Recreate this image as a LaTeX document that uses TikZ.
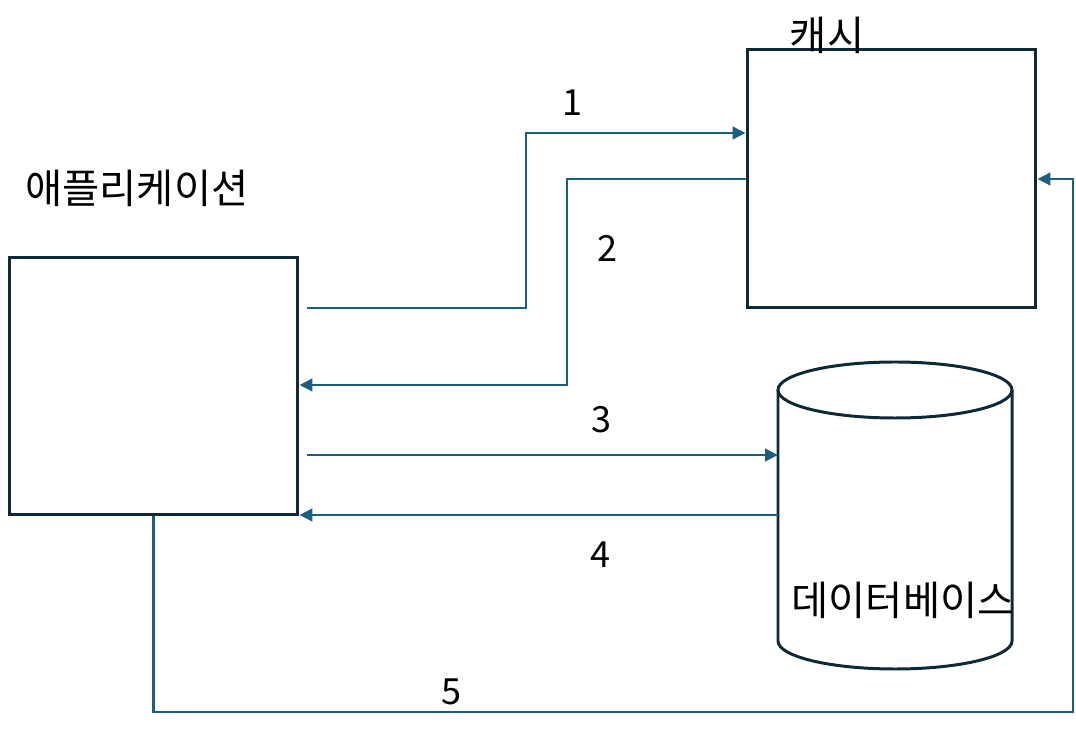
\documentclass[tikz,border=0pt]{standalone}
\usepackage{fontspec}
\newfontfamily\krfont{Noto Sans CJK KR}
\usetikzlibrary{arrows.meta}

\definecolor{boxline}{HTML}{0E2A38}
\definecolor{flowline}{HTML}{1B5F80}

\tikzset{
  block/.style={draw=boxline, line width=1.7pt, minimum width=5.78cm, minimum height=5.16cm, inner sep=0pt},
  store/.style={draw=boxline, line width=1.7pt},
  flow/.style={draw=flowline, line width=1.6pt, -{Triangle[length=0.26cm, width=0.25cm]}},
  label/.style={font=\krfont\fontsize{23}{27}\selectfont, inner sep=0pt},
  num/.style={font=\krfont\fontsize{20.5}{24}\selectfont, inner sep=0pt},
}

\begin{document}
\begin{tikzpicture}[x=0.02cm, y=-0.02cm]
  \useasboundingbox (0,0) rectangle (1076,736);

  % --- Bloklar ---
  \node[block] (app) at (153.5,386) {};
  \node[block] (cache) at (891.5,178.5) {};

  % --- Veritabanı silindiri ---
  \coordinate (db) at (895,515);
  \coordinate (dbwest) at (778,515);
  \draw[store] (778,390) -- (778,641) arc[start angle=180, end angle=0, x radius=117, y radius=28]
    -- (1012,390);
  \draw[store] (895,390) ellipse[x radius=117, y radius=28];

  % --- Etiketler ---
  \node[label] (applbl) at (137,188) {애플리케이션};
  \node[label] (cachelbl) at (827,35) {캐시};
  \node[label] (dblbl) at (903,600) {데이터베이스};

  % --- Akışlar ---
  \coordinate (s1) at (307,308);
  \coordinate (s3) at (307,455);
  \draw[flow] (s1) -| (526,133) -- (cache.west |- 0,133);
  \draw[flow] (cache.west |- 0,179) -| (567,385) -- (app.east |- 0,385);
  \draw[flow] (s3) -- (dbwest |- 0,455);
  \draw[flow] (dbwest) -- (app.east |- 0,515);
  \draw[flow] (app.south) -- (app.south |- 0,712) -| (1073,179) -- (cache.east |- 0,179);

  % --- Numaralar ---
  \node[num] (n1) at (572,103) {1};
  \node[num] (n2) at (607,248) {2};
  \node[num] (n3) at (601,420) {3};
  \node[num] (n4) at (600,555) {4};
  \node[num] (n5) at (451,692) {5};
\end{tikzpicture}
\end{document}
